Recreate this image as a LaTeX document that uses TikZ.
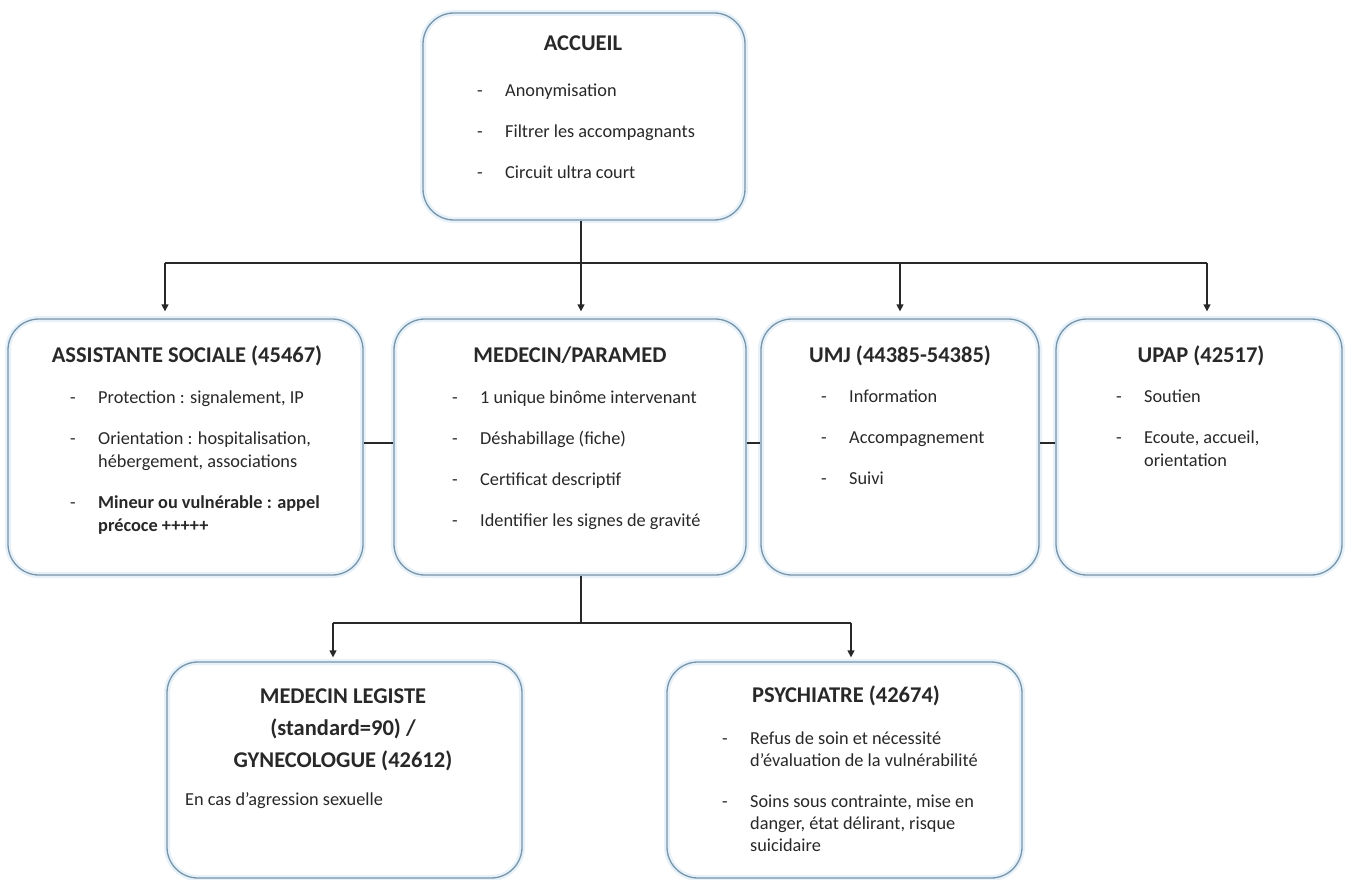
\documentclass[tikz,border=0pt]{standalone}
\usepackage{fontspec}
\setmainfont{Carlito}
\usetikzlibrary{arrows.meta}
\definecolor{boxc}{RGB}{120,148,168}
\definecolor{glowc}{RGB}{230,241,249}
\definecolor{linec}{RGB}{40,40,40}
\definecolor{txtc}{RGB}{40,40,40}
\newcommand\ditem[1]{\par\hangindent=28pt\hangafter=1\noindent\makebox[28pt][l]{-}#1\par}
\newcommand\bodyblock[2]{\parbox[t]{#1}{\raggedright\fontsize{18.3}{23}\selectfont\setlength{\parskip}{18pt}#2}}
\tikzset{
  box/.style={rectangle, rounded corners=31pt, inner sep=0pt, draw=boxc, line width=1.3pt,
    preaction={fill=white}, preaction={draw=glowc, line width=6pt}},
  ttl/.style={inner sep=0pt, anchor=base, font=\fontsize{22.5}{32}\selectfont\bfseries, text=txtc},
  body/.style={inner sep=0pt, anchor=base west, text=txtc},
  ln/.style={draw=linec, line width=1.3pt},
  arr/.style={ln, -{Triangle[width=7pt,length=7pt]}, shorten >=7pt},
  arrb/.style={ln, -{Triangle[width=7pt,length=7pt]}, shorten >=4pt},
}
\begin{document}
\begin{tikzpicture}[x=1pt,y=-1pt]
\useasboundingbox (0,0) rectangle (1352,880);
% boxes
\node[box, minimum width=322pt, minimum height=207pt] (acc) at (584,116.5) {};
\node[box, minimum width=355pt, minimum height=256pt] (ast) at (185.5,447) {};
\node[box, minimum width=352pt, minimum height=256pt] (med) at (570,447) {};
\node[box, minimum width=278pt, minimum height=256pt] (umj) at (900,447) {};
\node[box, minimum width=286pt, minimum height=256pt] (upap) at (1199,447) {};
\node[box, minimum width=355pt, minimum height=216pt] (leg) at (344.5,770) {};
\node[box, minimum width=355pt, minimum height=216pt] (psy) at (844.5,770) {};
% titles
\node[ttl] (acc-h) at (583,51) {ACCUEIL};
\node[ttl] (ast-h) at (187,362) {ASSISTANTE SOCIALE (45467)};
\node[ttl] (med-h) at (570,362) {MEDECIN/PARAMED};
\node[ttl] (umj-h) at (900,362) {UMJ (44385-54385)};
\node[ttl] (upap-h) at (1201,362) {UPAP (42517)};
\node[ttl] (leg-h) at (343,703) {\parbox[t]{350pt}{\centering MEDECIN LEGISTE\\(standard=90) /\\GYNECOLOGUE (42612)}};
\node[ttl] (psy-h) at (846,702) {PSYCHIATRE (42674)};
% bodies
\node[body] (acc-b) at (477,96.5) {\bodyblock{260pt}{%
  \ditem{Anonymisation}
  \ditem{Filtrer les accompagnants}
  \ditem{Circuit ultra court}}};
\node[body] (ast-b) at (70,403.5) {\bodyblock{285pt}{%
  \ditem{Protection : signalement, IP}
  \ditem{Orientation : hospitalisation,\newline hébergement, associations}
  \ditem{\bfseries Mineur ou vulnérable : appel\newline précoce +++++}}};
\node[body] (med-b) at (452,403.5) {\bodyblock{285pt}{%
  \ditem{1 unique binôme intervenant}
  \ditem{Déshabillage (fiche)}
  \ditem{Certificat descriptif}
  \ditem{Identifier les signes de gravité}}};
\node[body] (umj-b) at (821,402.5) {\bodyblock{200pt}{%
  \ditem{Information}
  \ditem{Accompagnement}
  \ditem{Suivi}}};
\node[body] (upap-b) at (1116,402.5) {\bodyblock{200pt}{%
  \ditem{Soutien}
  \ditem{Ecoute, accueil,\newline orientation}}};
\node[body, font=\fontsize{18.3}{23}\selectfont] (leg-b) at (185,805) {En cas d’agression sexuelle};
\node[body] (psy-b) at (722,744.5) {\parbox[t]{300pt}{\raggedright\fontsize{18.3}{22}\selectfont\setlength{\parskip}{19pt}%
  \ditem{Refus de soin et nécessité\newline d’évaluation de la vulnérabilité}
  \ditem{Soins sous contrainte, mise en\newline danger, état délirant, risque\newline suicidaire}}};
% connector coordinates
\coordinate (b0) at (581,263);
\coordinate (busL) at (165,263);
\coordinate (busU) at (900,263);
\coordinate (busR) at (1207,263);
\coordinate (c0) at (581,623);
\coordinate (cL) at (333,623);
\coordinate (cR) at (851,623);
% top connectors
\draw[arr] (acc.south -| b0) -- (b0 |- med.north);
\draw[ln] (busL) -- (busR);
\draw[arr] (busL) -- (busL |- ast.north);
\draw[arr] (busU) -- (busU |- umj.north);
\draw[arr] (busR) -- (busR |- upap.north);
% side links
\draw[ln] ([yshift=4pt]ast.east) -- ([yshift=4pt]med.west);
\draw[ln] ([yshift=4pt]med.east) -- ([yshift=4pt]umj.west);
\draw[ln] ([yshift=4pt]umj.east) -- ([yshift=4pt]upap.west);
% bottom connectors
\draw[ln] (med.south -| c0) -- (c0);
\draw[ln] (cL) -- (cR);
\draw[arrb] (cL) -- (cL |- leg.north);
\draw[arrb] (cR) -- (cR |- psy.north);
\end{tikzpicture}
\end{document}
